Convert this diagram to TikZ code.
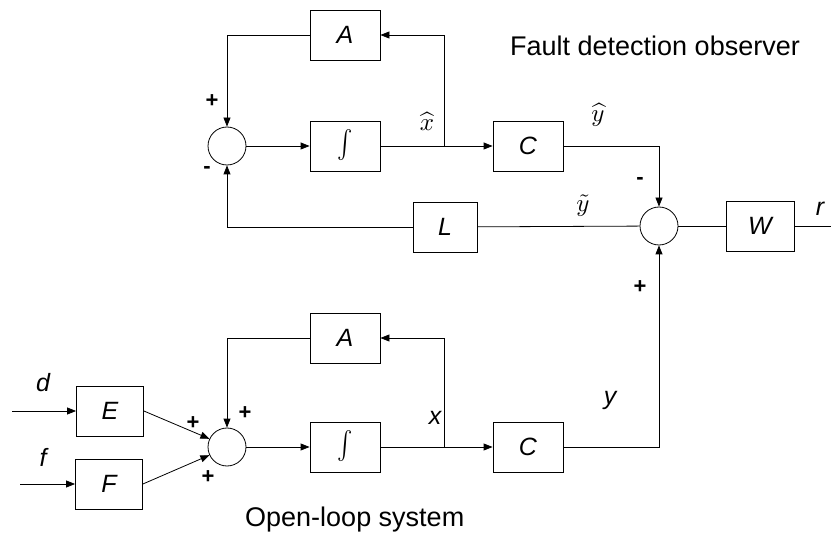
\documentclass[tikz,border=0pt]{standalone}
\usepackage{fontspec}
\setmainfont{Liberation Sans}
\usetikzlibrary{arrows.meta}
\tikzset{
  blk/.style={draw, line width=0.8pt, minimum width=70pt, minimum height=50pt, inner sep=0pt,
              font=\fontsize{25}{30}\selectfont\itshape},
  sumc/.style={draw, circle, line width=0.8pt, minimum size=38pt, inner sep=0pt},
  wire/.style={line width=0.8pt},
  arr/.style={wire, -{Triangle[length=9pt,width=7pt]}},
  lbl/.style={font=\fontsize{25}{30}\selectfont\itshape, inner sep=0pt},
  mlbl/.style={scale=2.5, inner sep=0pt},
  sgn/.style={font=\fontsize{22}{26}\selectfont\bfseries, inner sep=0pt},
  ttl/.style={font=\fontsize{27}{32}\selectfont, inner sep=0pt}
}
\newcommand{\intsym}{\scalebox{2.3}[2.8]{$\int$}}
\begin{document}
\begin{tikzpicture}[x=1pt,y=-1pt]
\useasboundingbox (0,0) rectangle (831,540);

% ---- fault detection observer ----
\node[sumc] (sT) at (227,146) {};
\node[blk] (At) at (345,35) {A};
\node[blk] (It) at (345,146) {\intsym};
\node[blk] (Ct) at (528,146) {C};
\node[blk, minimum width=64pt] (Lt) at (445,227) {L};
\node[sumc] (sR) at (659,226) {};
\node[blk, minimum width=68pt] (W) at (760,226) {W};
\coordinate (out) at (831,226);
\coordinate (bT) at (444,146);

\draw[arr] (sT) -- (It);
\draw[arr] (It) -- (Ct);
\draw[arr] (bT) |- (At);
\draw[arr] (At) -| (sT);
\draw[arr] (Ct) -| (sR);
\draw[wire] (sR) -- (Lt);
\draw[arr] (Lt) -| (sT);
\draw[wire] (sR) -- (W);
\draw[wire] (W) -- (out);

\node[sgn] at (212,101) {+};
\node[sgn] at (207,170) {-};
\node[mlbl] at (427,121) {$\widehat{x}$};
\node[mlbl] at (598,115) {$\widehat{y}$};
\node[mlbl] at (583,206) {$\tilde{y}$};
\node[sgn] at (640,181) {-};
\node[sgn] at (640,287) {+};
\node[lbl] at (820,209) {r};
\node[ttl] (tt) at (655,46) {Fault detection observer};

% ---- open-loop system ----
\node[sumc] (sB) at (227,447) {};
\node[blk] (Ab) at (345,338) {A};
\node[blk] (Ib) at (345,447) {\intsym};
\node[blk] (Cb) at (528,447) {C};
\node[blk, minimum width=67pt] (E) at (110,411) {E};
\node[blk, minimum width=67pt] (F) at (109,484) {F};
\coordinate (bB) at (444,447);
\coordinate (dIn) at (12,411);
\coordinate (fIn) at (20,484);

\draw[arr] (sB) -- (Ib);
\draw[arr] (Ib) -- (Cb);
\draw[arr] (bB) |- (Ab);
\draw[arr] (Ab) -| (sB);
\draw[arr] (Cb) -| (sR);
\draw[arr] (E.east) -- (sB.155);
\draw[arr] (F.east) -- (sB.205);
\draw[arr] (dIn) -- (E);
\draw[arr] (fIn) -- (F);

\node[lbl] at (43,383) {d};
\node[lbl] at (43,457) {f};
\node[sgn] at (193,423) {+};
\node[sgn] at (208,477) {+};
\node[sgn] at (245,413) {+};
\node[lbl] at (435,418) {x};
\node[lbl] at (610,400) {y};
\node[ttl, anchor=west] (tb) at (245,520) {Open-loop system};
\end{tikzpicture}
\end{document}
